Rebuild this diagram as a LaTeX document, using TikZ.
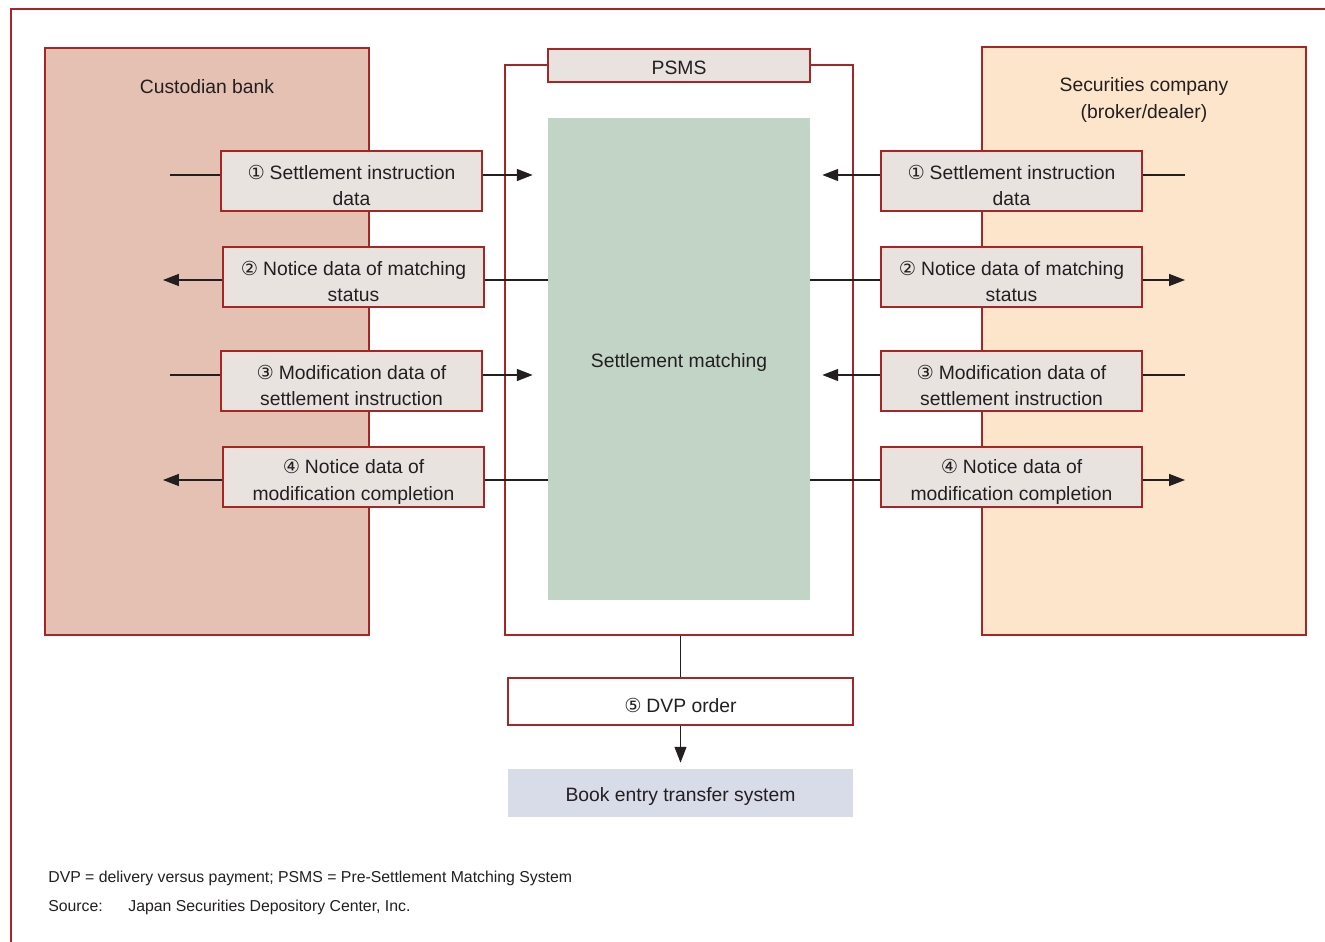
\documentclass[tikz,border=0pt]{standalone}
\usepackage{fontspec}
\setmainfont{Liberation Sans}
\newfontfamily\circfont{DejaVu Sans}
\usetikzlibrary{arrows.meta}
\definecolor{framered}{RGB}{165, 38, 36}
\definecolor{bankfill}{RGB}{228, 193, 178}
\definecolor{brokerfill}{RGB}{253, 229, 203}
\definecolor{msgfill}{RGB}{232, 227, 223}
\definecolor{matchfill}{RGB}{194, 212, 198}
\definecolor{bookfill}{RGB}{216, 219, 232}
\definecolor{inkgray}{RGB}{35, 31, 32}
\newcommand{\cnum}[1]{{\circfont #1}\hspace{0.25em}}
\newcommand{\msgtext}[3]{\rule{0pt}{13.5pt}\cnum{#1}#2\\#3}

\tikzset{
    lowtext/.style={execute at begin node={\rule{0pt}{#1}}},
    bigbox/.style={draw=framered, line width=0.7pt, inner sep=0pt},
    msgbox/.style={bigbox, fill=msgfill, minimum width=5.22cm,
                   minimum height=1.2cm, align=center, text=inkgray,
                   font=\fontsize{11}{15}\selectfont},
    boxlabel/.style={align=center, text=inkgray,
                     font=\fontsize{11}{15}\selectfont},
    note/.style={text=inkgray, inner sep=0pt, font=\fontsize{9}{11}\selectfont},
    flow/.style={draw=inkgray, line width=0.7pt},
    flowarrow/.style={-{Triangle[length=9pt, width=6.8pt]}}
}

\begin{document}
\begin{tikzpicture}[x=0.02cm, y=-0.02cm]
    \useasboundingbox (0, 0) rectangle (1325, 942);
    % frame
    \draw[framered, line width=0.8pt] (11, 942) -- (11, 9) -- (1325, 9);

    % parties and PSMS
    \node[bigbox, fill=bankfill, minimum width=6.48cm, minimum height=11.74cm]
        (bank) at (207, 341.5) {};
    \node[boxlabel] (banklabel) at (207, 86.5) {Custodian bank};
    \node[bigbox, fill=brokerfill, minimum width=6.48cm, minimum height=11.76cm]
        (broker) at (1144, 341) {};
    \node[boxlabel] (brokerlabel) at (1144, 100)
        {Securities company\\(broker/dealer)};
    \node[bigbox, fill=white, minimum width=6.96cm, minimum height=11.4cm]
        (psms) at (679, 350) {};
    \node[bigbox, fill=msgfill, minimum width=5.24cm, minimum height=0.66cm,
          boxlabel, lowtext=10.5pt] (psmstitle) at (679, 65.5) {PSMS};
    \node[fill=matchfill, minimum width=5.24cm, minimum height=9.64cm,
          inner sep=0pt] (match) at (679, 359) {};
    \node[boxlabel] (matchlabel) at (679, 363) {Settlement matching};

    % messages, custodian side
    \node[msgbox] (lm1) at (351.5, 181) {\msgtext{①}{Settlement instruction}{data}};
    \node[msgbox] (lm2) at (353.5, 277) {\msgtext{②}{Notice data of matching}{status}};
    \node[msgbox] (lm3) at (351.5, 381) {\msgtext{③}{Modification data of}{settlement instruction}};
    \node[msgbox] (lm4) at (353.5, 477) {\msgtext{④}{Notice data of}{modification completion}};

    % messages, broker side
    \node[msgbox] (rm1) at (1011.5, 181) {\msgtext{①}{Settlement instruction}{data}};
    \node[msgbox] (rm2) at (1011.5, 277) {\msgtext{②}{Notice data of matching}{status}};
    \node[msgbox] (rm3) at (1011.5, 381) {\msgtext{③}{Modification data of}{settlement instruction}};
    \node[msgbox] (rm4) at (1011.5, 477) {\msgtext{④}{Notice data of}{modification completion}};

    % custodian side flows
    \coordinate (bankin1) at (170, 175);
    \coordinate (bankout2) at (163, 280);
    \coordinate (bankin3) at (170, 375);
    \coordinate (bankout4) at (163, 480);
    \draw[flow] (bankin1) -- (bankin1 -| lm1.west);
    \draw[flow, flowarrow, shorten >=0.3cm] (bankin1 -| lm1.east) -- (bankin1 -| match.west);
    \draw[flow] (bankout2 -| match.west) -- (bankout2 -| lm2.east);
    \draw[flow, flowarrow] (bankout2 -| lm2.west) -- (bankout2);
    \draw[flow] (bankin3) -- (bankin3 -| lm3.west);
    \draw[flow, flowarrow, shorten >=0.3cm] (bankin3 -| lm3.east) -- (bankin3 -| match.west);
    \draw[flow] (bankout4 -| match.west) -- (bankout4 -| lm4.east);
    \draw[flow, flowarrow] (bankout4 -| lm4.west) -- (bankout4);

    % broker side flows
    \coordinate (brokin1) at (1185, 175);
    \coordinate (brokout2) at (1185, 280);
    \coordinate (brokin3) at (1185, 375);
    \coordinate (brokout4) at (1185, 480);
    \draw[flow] (brokin1) -- (brokin1 -| rm1.east);
    \draw[flow, flowarrow, shorten >=0.24cm] (brokin1 -| rm1.west) -- (brokin1 -| match.east);
    \draw[flow] (brokout2 -| match.east) -- (brokout2 -| rm2.west);
    \draw[flow, flowarrow] (brokout2 -| rm2.east) -- (brokout2);
    \draw[flow] (brokin3) -- (brokin3 -| rm3.east);
    \draw[flow, flowarrow, shorten >=0.24cm] (brokin3 -| rm3.west) -- (brokin3 -| match.east);
    \draw[flow] (brokout4 -| match.east) -- (brokout4 -| rm4.west);
    \draw[flow, flowarrow] (brokout4 -| rm4.east) -- (brokout4);

    % settlement
    \node[bigbox, fill=white, minimum width=6.9cm, minimum height=0.94cm,
          boxlabel, lowtext=12.5pt] (dvp) at (680.5, 701.5) {\cnum{⑤}DVP order};
    \node[fill=bookfill, minimum width=6.9cm, minimum height=0.96cm,
          inner sep=0pt, boxlabel, lowtext=12.5pt] (book) at (680.5, 793)
        {Book entry transfer system};
    \draw[flow] (dvp.north |- psms.south) -- (dvp.north);
    \draw[flow, flowarrow, shorten >=0.12cm] (dvp.south) -- (book.north);

    % notes
    \node[note, anchor=base west] (abbrev) at (48, 882)
        {DVP = delivery versus payment; PSMS = Pre-Settlement Matching System};
    \node[note, anchor=base west] (srclabel) at (48, 911) {Source:};
    \node[note, anchor=base west] (srcname) at (128, 911)
        {Japan Securities Depository Center, Inc.};
\end{tikzpicture}
\end{document}
